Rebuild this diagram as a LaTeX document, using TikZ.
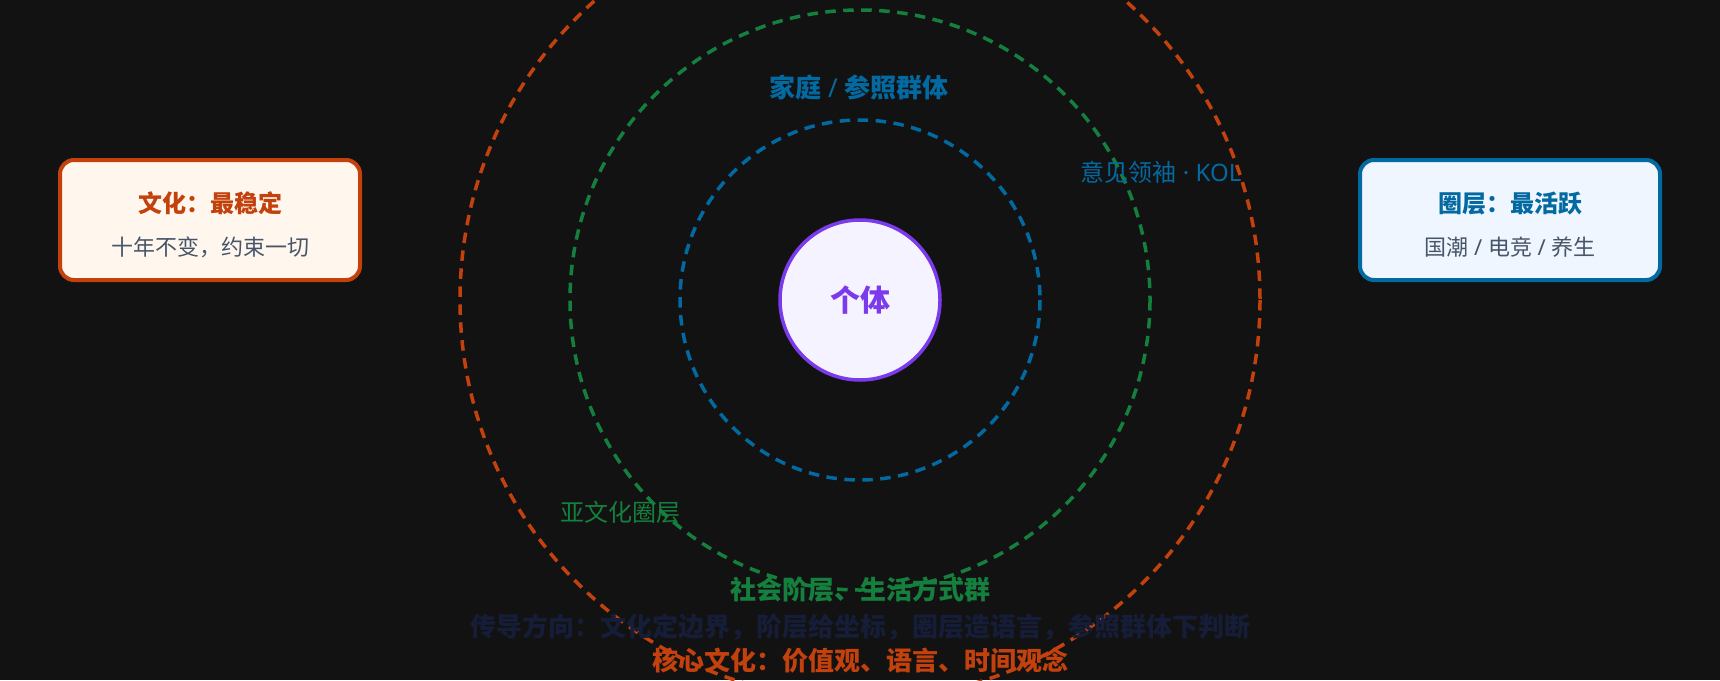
\documentclass[tikz,border=0pt]{standalone}
\usepackage{fontspec}
\setmainfont{Noto Sans CJK SC}
\newfontfamily\latin{Noto Sans}
\definecolor{bg}{HTML}{121212}
\definecolor{cul}{HTML}{C2410C}
\definecolor{culbg}{HTML}{FFF7ED}
\definecolor{grp}{HTML}{0369A1}
\definecolor{grpbg}{HTML}{EFF6FF}
\definecolor{cls}{HTML}{15803D}
\definecolor{ego}{HTML}{7C3AED}
\definecolor{egobg}{HTML}{F5F3FF}
\definecolor{gray}{HTML}{475569}
\definecolor{navy}{HTML}{161D38}
\begin{document}
\begin{tikzpicture}[x=1pt, y=-1pt,
  ring/.style={line width=3.5pt, dash pattern=on 10.5pt off 7.5pt},
  card/.style={draw, line width=4pt, rounded corners=14pt,
               minimum width=300pt, minimum height=120pt},
  head/.style={inner sep=0pt, font=\bfseries\fontsize{24}{28}\selectfont},
  sub/.style={inner sep=0pt, text=gray, font=\fontsize{22}{26}\selectfont},
  big/.style={inner sep=0pt, font=\bfseries\fontsize{26}{30}\selectfont},
  tag/.style={inner sep=0pt, font=\fontsize{24}{28}\selectfont}]
\useasboundingbox[fill=bg] (0,0) rectangle (1720,680);

% rings round the individual
\path (860,300) coordinate (mid);
\draw[ring, cul] (mid) circle[radius=400];
\draw[ring, cls] (mid) circle[radius=290];
\draw[ring, grp] (mid) circle[radius=180];
\node[circle, draw=ego, fill=egobg, line width=3.5pt, minimum size=160pt,
      text=ego, font=\bfseries\fontsize{30}{34}\selectfont] (self) at (mid) {个体};

% ring labels
\node[big, text=grp] (fam) at (859,87) {家庭{\latin\ /\ }参照群体};
\node[tag, text=grp] (kol) at (1161,172) {意见领袖{\latin\ ·\ KOL}};
\node[tag, text=cls] (sub) at (620,512) {亚文化圈层};
\node[big, text=cls] (cls) at (860,590) {社会阶层、生活方式群};
\node[big, text=navy] (flow) at (860,627)
  {传导方向：文化定边界，阶层给坐标，圈层造语言，参照群体下判断};
\node[big, text=cul] (core) at (860,661) {核心文化：价值观、语言、时间观念};

% side cards
\node[card, draw=cul, fill=culbg] (left) at (210,220) {};
\node[head, text=cul] (lhead) at (210,203) {文化：最稳定};
\node[sub] (lsub) at (210,247) {十年不变，约束一切};

\node[card, draw=grp, fill=grpbg] (right) at (1510,220) {};
\node[head, text=grp] (rhead) at (1510,203) {圈层：最活跃};
\node[sub] (rsub) at (1510,247) {国潮{\latin\ /\ }电竞{\latin\ /\ }养生};
\end{tikzpicture}
\end{document}
